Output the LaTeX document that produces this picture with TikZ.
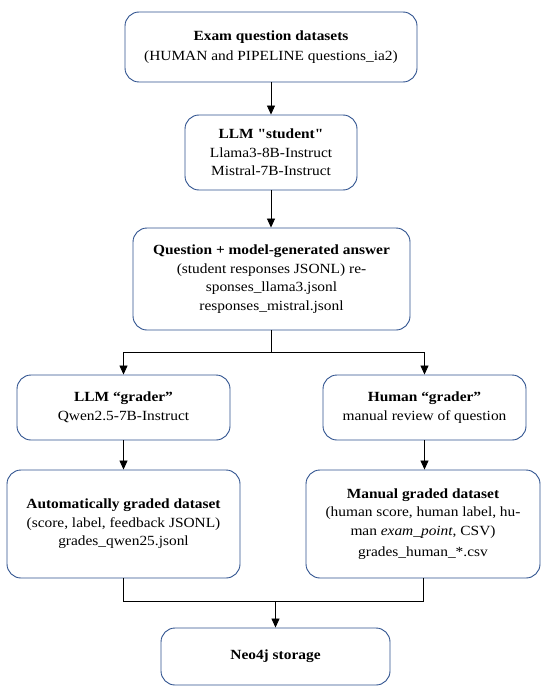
\documentclass[tikz,border=0pt]{standalone}
\usepackage{fontspec}
\setmainfont{Liberation Serif}[Ligatures=TeXOff,FakeStretch=1.1]
\usetikzlibrary{arrows.meta}
\definecolor{boxblue}{RGB}{47,82,143}
\begin{document}
\begin{tikzpicture}[x=1pt,y=-1pt,
  box/.style={draw=boxblue,line width=0.9pt,rounded corners=14pt,fill=white,
    align=center,inner sep=2pt,font=\fontsize{14}{18.5}\selectfont},
  conn/.style={draw=black,line width=0.8pt},
  arr/.style={conn,-{Triangle[length=9pt,width=8pt]}}]
\useasboundingbox (0,0) rectangle (550,698);
\node[box,minimum width=292pt,minimum height=70pt] (ds) at (271,47)
  {\textbf{Exam question datasets}\\[2pt](HUMAN and PIPELINE questions\_ia2)};
\node[box,minimum width=172pt,minimum height=75pt] (st) at (271,152.5)
  {\textbf{LLM "student"}\\Llama3-8B-Instruct\\Mistral-7B-Instruct};
\node[box,minimum width=277pt,minimum height=102pt] (qa) at (271.5,279)
  {\textbf{Question + model-generated answer}\\(student responses JSONL) re-\\sponses\_llama3.jsonl\\responses\_mistral.jsonl};
\node[box,minimum width=213pt,minimum height=65pt] (lg) at (123.5,407.5)
  {\textbf{LLM “grader”}\\Qwen2.5-7B-Instruct};
\node[box,minimum width=203pt,minimum height=65pt] (hg) at (424.5,407.5)
  {\textbf{Human “grader”}\\manual review of question};
\node[box,minimum width=233pt,minimum height=108pt] (ag) at (123.5,524)
  {\textbf{Automatically graded dataset}\\(score, label, feedback JSONL)\\grades\_qwen25.jsonl};
\node[box,minimum width=234pt,minimum height=108pt] (mg) at (423,524)
  {\textbf{Manual graded dataset}\\(human score, human label, hu-\\man \textit{exam\_point}, CSV)\\[3pt]grades\_human\_*.csv};
\node[box,minimum width=229pt,minimum height=57pt] (neo) at (275.5,656.5)
  {\textbf{Neo4j storage}};
\coordinate (split) at (271.5,352);
\coordinate (join) at (275.5,601);
\draw[arr] (ds.south) -- (st.north);
\draw[arr] (st.south) -- (st.south |- qa.north);
\draw[conn] (qa.south) -- (split);
\draw[arr] (split) -| (lg.north);
\draw[arr] (split) -| (hg.north);
\draw[arr] (lg.south) -- (lg.south |- ag.north);
\draw[arr] (hg.south) -- (hg.south |- mg.north);
\draw[conn] (ag.south) |- (join);
\draw[conn] (mg.south) |- (join);
\draw[arr] (join) -- (neo.north);
\end{tikzpicture}
\end{document}
